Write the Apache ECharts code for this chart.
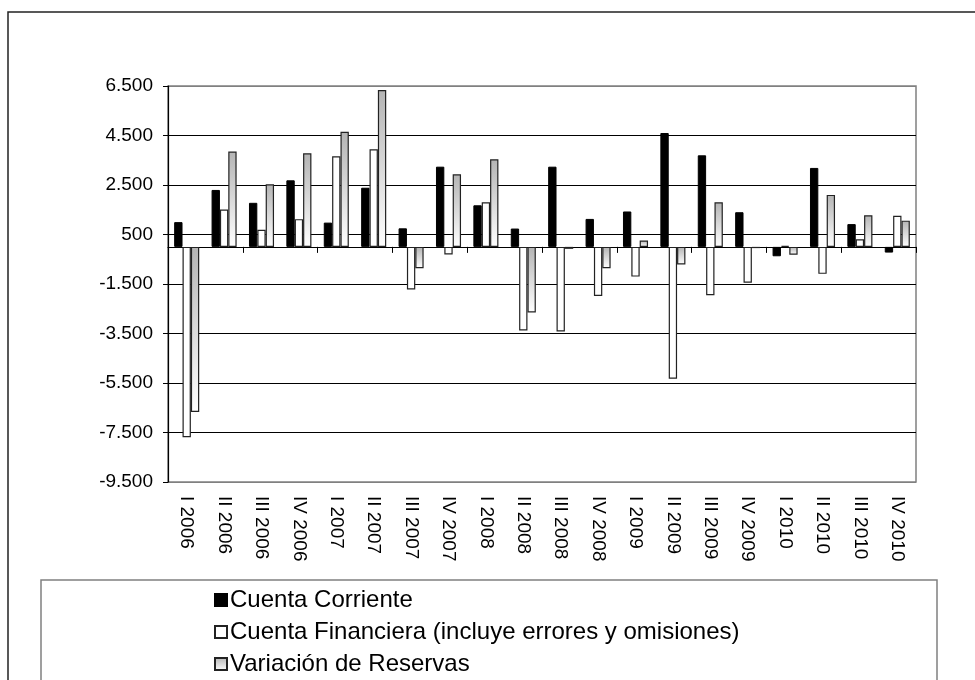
<!DOCTYPE html>
<html>
<head>
<meta charset="utf-8">
<script src="https://cdn.jsdelivr.net/npm/echarts@6/dist/echarts.min.js"></script>
<style>
html,body{margin:0;padding:0;background:#fff;}
#main{width:975px;height:680px;}
</style>
</head>
<body>
<div id="main"></div>
<script>
const categories = ['I 2006','II 2006','III 2006','IV 2006','I 2007','II 2007','III 2007','IV 2007','I 2008','II 2008','III 2008','IV 2008','I 2009','II 2009','III 2009','IV 2009','I 2010','II 2010','III 2010','IV 2010'];
const cuentaCorriente = [1000, 2300, 1780, 2690, 980, 2390, 750, 3240, 1680, 740, 3240, 1130, 1430, 4600, 3700, 1400, -380, 3190, 920, -230];
const cuentaFinanciera = [-7690, 1510, 690, 1120, 3660, 3940, -1720, -310, 1800, -3380, -3420, -1980, -1200, -5330, -1950, -1450, 40, -1090, 310, 1260];
const variacionReservas = [-6670, 3850, 2530, 3780, 4650, 6340, -860, 2930, 3540, -2650, -80, -860, 260, -710, 1800, -50, -320, 2100, 1280, 1060];
const seriesNames = ['Cuenta Corriente', 'Cuenta Financiera (incluye errores y omisiones)', 'Variación de Reservas'];

const FONT = '"Liberation Sans", Arial, sans-serif';
function fmt(v){
  const neg = v < 0;
  let s = String(Math.abs(Math.round(v)));
  s = s.replace(/\B(?=(\d{3})+(?!\d))/g, '.');
  return (neg ? '-' : '') + s;
}
const chart = echarts.init(document.getElementById('main'), null, {renderer:'canvas'});
const grayGrad = new echarts.graphic.LinearGradient(0,0,0,1,[{offset:0,color:'#b4b4b4'},{offset:1,color:'#ffffff'}]);
const lineColors = ['#808080','#000','#000','#000','#000','#000','#000','#000','#808080'];
chart.setOption({
  backgroundColor:'#fff',
  animation:false,
  graphic:[
    {type:'rect', z:-10, shape:{x:8, y:12, width:1100, height:1000}, style:{fill:'none', stroke:'#222', lineWidth:1.5}},
    {type:'rect', z:-10, shape:{x:41, y:580, width:896, height:300}, style:{fill:'none', stroke:'#808080', lineWidth:1.5}}
  ],
  grid:{left:168, top:86, right:59, bottom:198, show:true, borderColor:'#808080', borderWidth:1.5, containLabel:false},
  legend:{
    orient:'vertical', left:214, top:588, padding:0, itemWidth:12, itemHeight:12, itemGap:8,
    icon:'rect', width:700, height:100,
    textStyle:{fontFamily:FONT, fontSize:24, color:'#000', lineHeight:24, padding:[0,0,0,-2]},
    data:seriesNames
  },
  xAxis:[
    {type:'category', data:categories, position:'bottom',
     axisLine:{onZero:true, lineStyle:{color:'#000', width:1.2}},
     axisTick:{show:true, length:6, lineStyle:{color:'#000'}},
     axisLabel:{show:false}, splitLine:{show:false}},
    {type:'category', data:categories, position:'bottom',
     axisLine:{show:false, onZero:false}, axisTick:{show:false}, splitLine:{show:false},
     axisLabel:{show:true, rotate:-90, margin:14, fontFamily:FONT, fontSize:19, color:'#000', interval:0}}
  ],
  yAxis:{
    type:'value', min:-9500, max:6500, interval:2000,
    axisLine:{show:true, lineStyle:{color:'#000', width:1.2}},
    axisTick:{show:true, length:5, lineStyle:{color:'#000'}},
    axisLabel:{margin:15, fontFamily:FONT, fontSize:19, color:'#000', formatter:fmt},
    splitLine:{show:true, lineStyle:{color:lineColors, width:1}}
  },
  series:[
    {name:seriesNames[0], type:'bar', xAxisIndex:0, data:cuentaCorriente, barGap:'0%', barCategoryGap:'33%',
     itemStyle:{color:'#000', borderColor:'#000', borderWidth:1}},
    {name:seriesNames[1], type:'bar', xAxisIndex:0, data:cuentaFinanciera, barGap:'0%', barCategoryGap:'33%',
     itemStyle:{color:'#fff', borderColor:'#222', borderWidth:1.2}},
    {name:seriesNames[2], type:'bar', xAxisIndex:0, data:variacionReservas, barGap:'0%', barCategoryGap:'33%',
     itemStyle:{color:grayGrad, borderColor:'#222', borderWidth:1.2}}
  ]
});
</script>
</body>
</html>
